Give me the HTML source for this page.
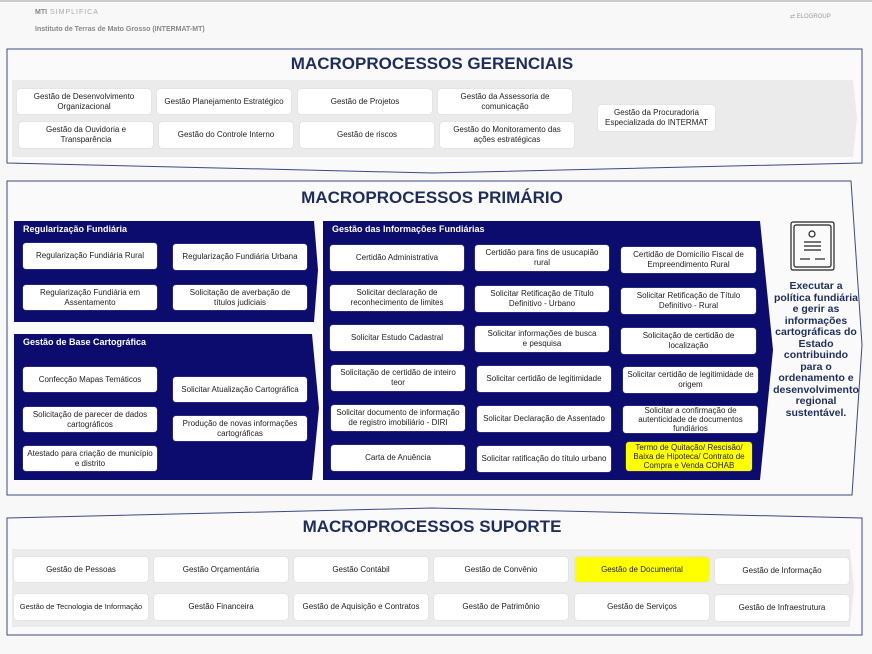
<!DOCTYPE html>
<html><head><meta charset="utf-8"><style>
body{margin:0;width:872px;height:654px;background:#f8f8f8;font-family:"Liberation Sans",sans-serif;position:relative;overflow:hidden}
.b{position:absolute;background:#fff;border-radius:3px;display:flex;align-items:center;justify-content:center;text-align:center;font-size:8px;line-height:10px;color:#222;box-sizing:border-box;padding:0 6px;box-shadow:0 0 1px #bbb}
.n{white-space:nowrap;padding:0}
.t{position:absolute;font-weight:bold;color:#1f2d5c;font-size:17px;left:0;width:864px;text-align:center}
.h{position:absolute;color:#fff;font-weight:bold;font-size:9px}
.y{background:#ffff00}
</style></head><body>
<div style="position:absolute;left:0;top:0;width:872px;height:2px;background:#ccc"></div>
<div style="position:absolute;left:35px;top:9px;font-size:7px;color:#888;font-weight:bold">MTI<span style="font-weight:normal;color:#aaa;letter-spacing:1px"> SIMPLIFICA</span></div>
<div style="position:absolute;left:35px;top:26px;font-size:7px;color:#888;font-weight:bold">Instituto de Terras de Mato Grosso (INTERMAT-MT)</div>
<div style="position:absolute;left:790px;top:13px;font-size:6px;color:#999">⇄ ELOGROUP</div>
<svg width="872" height="654" style="position:absolute;left:0;top:0">
<polygon points="7,49 862,49 862,163 432,173 7,163" fill="#fafafa" stroke="#3a4a80" stroke-width="1"/>
<polygon points="12,80 853,80 857,118 853,157 12,157" fill="#ebebeb"/>
<polygon points="7,181 851,181 862,345 852,495 7,495" fill="#fafafa" stroke="#3a4a80" stroke-width="1"/>
<polygon points="14,221 314,221 318,270 314,322 14,322" fill="#0b0c6e"/>
<polygon points="14,334 312,334 319,408 312,480 14,480" fill="#0b0c6e"/>
<polygon points="323,221 760,221 773,350 760,480 323,480" fill="#0b0c6e"/>
<polygon points="7,518 432,508 862,518 862,635 7,635" fill="#fafafa" stroke="#3a4a80" stroke-width="1"/>
<polygon points="12,549 850,549 854,588 850,627 12,627" fill="#ebebeb"/>
<g fill="none" stroke="#222" stroke-width="1.2">
<rect x="791" y="222" width="43" height="48" rx="2"/><rect x="794" y="225" width="37" height="42" rx="2"/>
<circle cx="812" cy="234" r="3"/><line x1="804" y1="242" x2="821" y2="242"/><line x1="804" y1="246" x2="821" y2="246"/><line x1="804" y1="250" x2="821" y2="250"/><line x1="800" y1="259" x2="810" y2="259"/><line x1="815" y1="259" x2="825" y2="259"/>
</g>
</svg>
<div class="t" style="top:54px">MACROPROCESSOS GERENCIAIS</div>
<div class="b" style="left:17px;top:89px;width:134px;height:25px">Gestão de Desenvolvimento Organizacional</div>
<div class="b n" style="left:157px;top:89px;width:134px;height:25px">Gestão Planejamento Estratégico</div>
<div class="b" style="left:298px;top:89px;width:134px;height:25px">Gestão de Projetos</div>
<div class="b" style="left:438px;top:89px;width:134px;height:25px;padding:0 18px">Gestão da Assessoria de comunicação</div>
<div class="b" style="left:19px;top:122px;width:134px;height:26px;padding:0 20px">Gestão da Ouvidoria e Transparência</div>
<div class="b" style="left:159px;top:122px;width:134px;height:26px">Gestão do Controle Interno</div>
<div class="b" style="left:300px;top:122px;width:134px;height:26px">Gestão de riscos</div>
<div class="b" style="left:440px;top:122px;width:134px;height:26px;padding:0 8px">Gestão do Monitoramento das ações estratégicas</div>
<div class="b" style="left:598px;top:105px;width:117px;height:26px">Gestão da Procuradoria Especializada do INTERMAT</div>

<div class="t" style="top:188px">MACROPROCESSOS PRIMÁRIO</div>
<div class="h" style="left:23px;top:224px">Regularização Fundiária</div>
<div class="b" style="left:23px;top:243px;width:134px;height:26px">Regularização Fundiária Rural</div>
<div class="b" style="left:173px;top:244px;width:134px;height:26px">Regularização Fundiária Urbana</div>
<div class="b" style="left:23px;top:285px;width:134px;height:25px;padding:0 14px">Regularização Fundiária  em Assentamento</div>
<div class="b" style="left:173px;top:285px;width:134px;height:25px">Solicitação de averbação de títulos judiciais</div>
<div class="h" style="left:23px;top:337px">Gestão de Base Cartográfica</div>
<div class="b" style="left:23px;top:367px;width:134px;height:25px">Confecção Mapas Temáticos</div>
<div class="b" style="left:23px;top:407px;width:134px;height:25px;padding:0 8px">Solicitação de parecer de dados cartográficos</div>
<div class="b" style="left:23px;top:446px;width:134px;height:25px;padding:0 3px">Atestado para criação de município e distrito</div>
<div class="b n" style="left:173px;top:377px;width:134px;height:25px">Solicitar Atualização Cartográfica</div>
<div class="b" style="left:173px;top:416px;width:134px;height:25px;padding:0 8px">Produção de novas informações cartográficas</div>

<div class="h" style="left:332px;top:224px">Gestão das Informações Fundiárias</div>
<div class="b" style="left:330px;top:245px;width:134px;height:26px">Certidão Administrativa</div>
<div class="b" style="left:475px;top:245px;width:134px;height:26px;padding:0 10px">Certidão para fins de usucapião rural</div>
<div class="b" style="left:621px;top:247px;width:135px;height:26px;padding:0 8px">Certidão de Domicílio Fiscal de Empreendimento Rural</div>
<div class="b" style="left:330px;top:285px;width:134px;height:26px;padding:0 18px">Solicitar declaração de reconhecimento de limites</div>
<div class="b" style="left:475px;top:286px;width:134px;height:26px;padding:0 14px">Solicitar Retificação de Título Definitivo - Urbano</div>
<div class="b" style="left:621px;top:288px;width:135px;height:26px;padding:0 14px">Solicitar Retificação de Título Definitivo - Rural</div>
<div class="b" style="left:330px;top:325px;width:134px;height:26px">Solicitar Estudo Cadastral</div>
<div class="b" style="left:475px;top:326px;width:134px;height:26px;padding:0 10px">Solicitar informações de busca e pesquisa</div>
<div class="b" style="left:621px;top:328px;width:135px;height:26px;padding:0 18px">Solicitação de certidão de localização</div>
<div class="b" style="left:331px;top:365px;width:134px;height:26px;padding:0 8px">Solicitação de certidão de inteiro teor</div>
<div class="b" style="left:477px;top:366px;width:134px;height:26px">Solicitar certidão de legitimidade</div>
<div class="b" style="left:623px;top:367px;width:135px;height:26px;padding:0 3px">Solicitar certidão de legitimidade de origem</div>
<div class="b" style="left:331px;top:405px;width:134px;height:26px;padding:0 3px">Solicitar documento de informação de registro imobiliário - DIRI</div>
<div class="b n" style="left:477px;top:406px;width:134px;height:26px">Solicitar Declaração de Assentado</div>
<div class="b" style="left:623px;top:406px;width:135px;height:27px;line-height:9px;padding:0 10px">Solicitar a confirmação de autenticidade de documentos fundiários</div>
<div class="b" style="left:331px;top:445px;width:134px;height:26px">Carta de Anuência</div>
<div class="b n" style="left:477px;top:446px;width:134px;height:26px">Solicitar ratificação do título urbano</div>
<div class="b y" style="left:626px;top:442px;width:126px;height:29px;line-height:9px;padding:0 3px">Termo de Quitação/ Rescisão/ Baixa de Hipoteca/ Contrato de Compra e Venda COHAB</div>
<div style="position:absolute;left:772px;top:281px;width:88px;text-align:center;font-size:10.5px;line-height:11.5px;font-weight:bold;color:#1f2d5c">Executar a política fundiária e gerir as informações cartográficas do Estado contribuindo para o ordenamento e desenvolvimento regional sustentável.</div>

<div class="t" style="top:517px">MACROPROCESSOS SUPORTE</div>
<div class="b" style="left:14px;top:557px;width:134px;height:25px">Gestão de Pessoas</div>
<div class="b" style="left:154px;top:557px;width:134px;height:25px">Gestão Orçamentária</div>
<div class="b" style="left:294px;top:557px;width:134px;height:25px">Gestão Contábil</div>
<div class="b" style="left:434px;top:557px;width:134px;height:25px">Gestão de Convênio</div>
<div class="b y" style="left:575px;top:557px;width:134px;height:25px">Gestão de Documental</div>
<div class="b" style="left:715px;top:558px;width:134px;height:26px">Gestão de Informação</div>
<div class="b n" style="left:14px;top:594px;width:134px;height:26px;font-size:7.5px">Gestão de Tecnologia de Informação</div>
<div class="b" style="left:154px;top:594px;width:134px;height:26px">Gestão Financeira</div>
<div class="b n" style="left:294px;top:594px;width:134px;height:26px">Gestão de Aquisição e Contratos</div>
<div class="b" style="left:434px;top:594px;width:134px;height:26px">Gestão de Patrimônio</div>
<div class="b" style="left:575px;top:594px;width:134px;height:26px">Gestão de Serviços</div>
<div class="b" style="left:715px;top:595px;width:134px;height:26px">Gestão de Infraestrutura</div>
</body></html>
